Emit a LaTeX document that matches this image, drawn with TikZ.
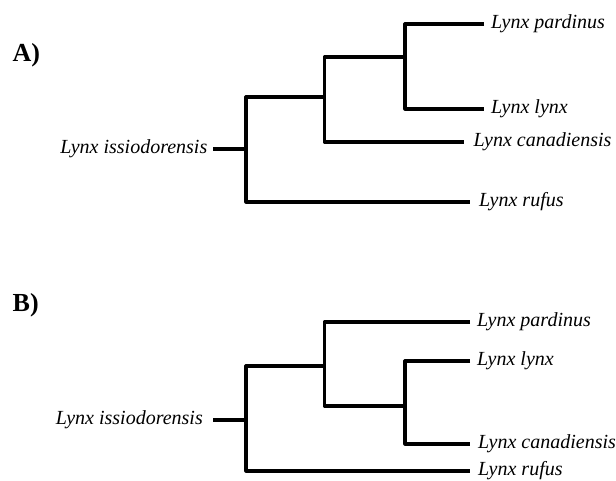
\documentclass[tikz,border=0pt]{standalone}
\usepackage{fontspec}
\setmainfont{Liberation Serif}
\begin{document}
\begin{tikzpicture}[x=1pt,y=-1pt,
  branch/.style={line width=3.2pt, line join=round},
  taxon/.style={anchor=west, inner xsep=7pt, inner ysep=0pt,
    text height=13pt, text depth=4pt,
    font=\fontsize{20}{24}\selectfont\itshape},
  ancestor/.style={taxon, anchor=east},
  panel/.style={anchor=base west, inner sep=0pt,
    font=\fontsize{26}{30}\selectfont\bfseries}]
\useasboundingbox (0,0) rectangle (616,481);

% ---- Tree A ----
\node[panel] (labA) at (12.5,61.5) {A)};
\coordinate (A-root) at (246,149);
\coordinate (A-mid) at (324.5,97);
\coordinate (A-in) at (405,57);
\node[taxon] (A-par) at (484,24) {Lynx pardinus};
\node[taxon] (A-lyn) at (484,109) {Lynx lynx};
\node[taxon, inner xsep=10pt] (A-can) at (463.5,142) {Lynx canadiensis};
\node[taxon, inner xsep=9pt] (A-ruf) at (470,202) {Lynx rufus};
\node[ancestor, inner xsep=5.5pt] (A-iss) at (213,149) {Lynx issiodorensis};

\draw[branch] (A-iss.east) -- (A-root);
\draw[branch] (A-mid) -| (A-root) |- (A-ruf.west);
\draw[branch] (A-in) -| (A-mid) |- (A-can.west);
\draw[branch] (A-par.west) -| (A-in) |- (A-lyn.west);

% ---- Tree B ----
\node[panel] (labB) at (12.5,311.5) {B)};
\coordinate (B-root) at (246,420);
\coordinate (B-mid) at (324.5,366);
\coordinate (B-in) at (405,406);
\node[taxon] (B-par) at (470,322) {Lynx pardinus};
\node[taxon] (B-lyn) at (470,361) {Lynx lynx};
\node[taxon, inner xsep=8pt] (B-can) at (470,444) {Lynx canadiensis};
\node[taxon, inner xsep=8pt] (B-ruf) at (470,471) {Lynx rufus};
\node[ancestor, inner xsep=10pt] (B-iss) at (213,420) {Lynx issiodorensis};

\draw[branch] (B-iss.east) -- (B-root);
\draw[branch] (B-mid) -| (B-root) |- (B-ruf.west);
\draw[branch] (B-par.west) -| (B-mid) |- (B-in);
\draw[branch] (B-lyn.west) -| (B-in) |- (B-can.west);
\end{tikzpicture}
\end{document}
